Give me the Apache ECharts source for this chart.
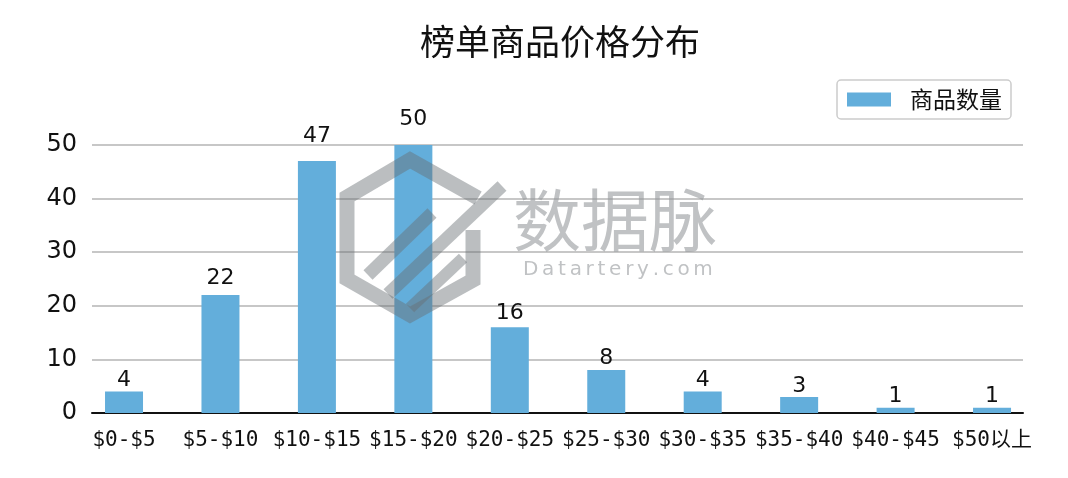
<!DOCTYPE html>
<html>
<head>
<meta charset="utf-8">
<script src="https://cdn.jsdelivr.net/npm/echarts@6/dist/echarts.min.js"></script>
<style>html,body{margin:0;padding:0;background:#fff;}#c{width:1068px;height:478px;}</style>
</head>
<body>
<div id="c"></div>
<script>
const title = '榜单商品价格分布';
const seriesName = '商品数量';
const categories = ['$0-$5','$5-$10','$10-$15','$15-$20','$20-$25','$25-$30','$30-$35','$35-$40','$40-$45','$50以上'];
const counts = [4, 22, 47, 50, 16, 8, 4, 3, 1, 1];
const yTicks = { min: 0, max: 50, interval: 10 };

const chart = echarts.init(document.getElementById('c'));
const wmColor = 'rgba(105,110,116,0.45)';
const wmText = 'rgba(150,153,157,0.6)';
const pxPerUnit = 268 / 50;

// watermark "Datartery.com" with letter spacing
const wmSmall = 'Datartery.com';
const ctx = document.createElement('canvas').getContext('2d');
ctx.font = '20px "DejaVu Sans"';
const smallGraphics = [];
let sx = 523;
const extra = (187 - ctx.measureText(wmSmall).width) / (wmSmall.length - 1);
for (const ch of wmSmall) {
  smallGraphics.push({ type: 'text', z: 100, x: sx, y: 260, style: { text: ch, fontSize: 20, fill: wmText, fontFamily: 'DejaVu Sans' } });
  sx += ctx.measureText(ch).width + extra;
}

chart.setOption({
  animation: false,
  backgroundColor: '#fff',
  title: {
    text: title, left: 415, top: 19,
    textStyle: { fontSize: 35, fontWeight: 'normal', color: '#111', fontFamily: 'Noto Sans CJK SC' }
  },
  legend: {
    right: 57, top: 80, itemWidth: 44, itemHeight: 14, icon: 'rect',
    padding: [8, 9, 8, 10],
    borderColor: '#cccccc', borderWidth: 1.5, borderRadius: 4,
    textStyle: { fontSize: 23, color: '#111', fontFamily: 'Noto Sans CJK SC', padding: [0, 0, 0, 14] },
    data: [seriesName]
  },
  grid: { left: 92, right: 45, top: 145, bottom: 65 },
  xAxis: {
    type: 'value', min: -0.332, max: 9.321,
    axisLine: { onZero: false, lineStyle: { color: '#111', width: 2 } },
    axisTick: { show: false },
    splitLine: { show: false },
    axisLabel: {
      customValues: categories.map((c, i) => i),
      formatter: v => categories[Math.round(v)],
      fontSize: 21, color: '#111', fontFamily: 'DejaVu Sans Mono, Noto Sans CJK SC', margin: 17
    }
  },
  yAxis: {
    type: 'value', min: yTicks.min, max: yTicks.max, interval: yTicks.interval,
    axisLine: { show: false }, axisTick: { show: false },
    axisLabel: { fontSize: 24, color: '#111', fontFamily: 'DejaVu Sans', margin: 15 },
    splitLine: { lineStyle: { color: '#b4b4b4', width: 1.5 } }
  },
  series: [{
    name: seriesName, type: 'bar', barWidth: 38,
    data: counts.map((v, i) => ({
      value: [i, v],
      label: { distance: Math.max(0, (0.06 * v + 0.42) * pxPerUnit - 4) }
    })),
    itemStyle: { color: '#63aedb' },
    label: { show: true, position: 'top', formatter: p => p.value[1], fontSize: 22, color: '#111', fontFamily: 'DejaVu Sans' }
  }],
  graphic: [
    { type: 'polyline', z: 100, shape: { points: [[478, 198], [410, 160], [347, 197], [347, 279], [410, 315], [473, 280], [473, 230]] }, style: { stroke: wmColor, lineWidth: 15, fill: null, lineJoin: 'miter' } },
    { type: 'polyline', z: 100, shape: { points: [[368, 275], [432, 213]] }, style: { stroke: wmColor, lineWidth: 13, fill: null } },
    { type: 'polyline', z: 100, shape: { points: [[388, 294], [502, 186]] }, style: { stroke: wmColor, lineWidth: 13, fill: null } },
    { type: 'polyline', z: 100, shape: { points: [[410, 308], [463, 258]] }, style: { stroke: wmColor, lineWidth: 12, fill: null } },
    { type: 'text', z: 100, left: 513, top: 186, style: { text: '数据脉', fontSize: 68, fill: wmText, fontFamily: 'Noto Sans CJK SC' } }
  ].concat(smallGraphics)
});
</script>
</body>
</html>
